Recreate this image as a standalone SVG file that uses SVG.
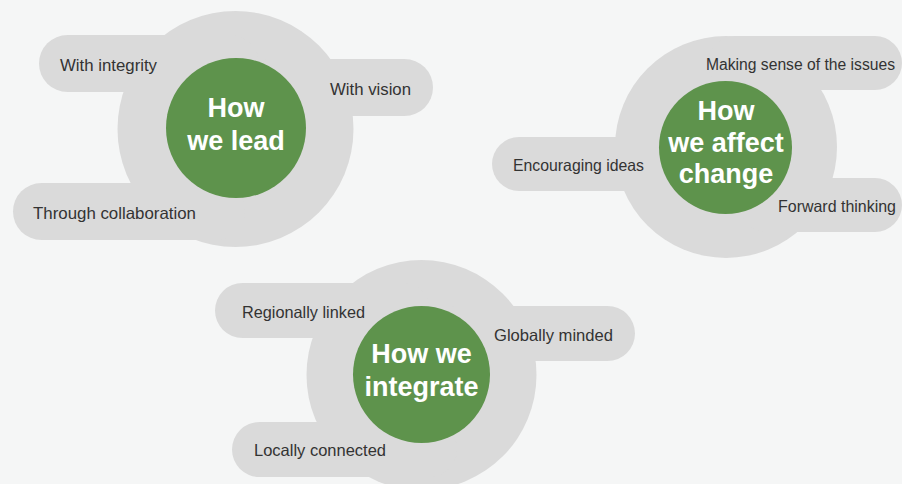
<svg xmlns="http://www.w3.org/2000/svg" width="902" height="484" viewBox="0 0 902 484">
<style>
.bg{fill:#f5f6f6}
.halo{fill:#dadada}
.pill{fill:#dadada}
.core{fill:#5e934c}
.lbl{font-family:"Liberation Sans",Arial,sans-serif;font-size:16.5px;fill:#333}
.ttl{font-family:"Liberation Sans",Arial,sans-serif;font-size:27px;font-weight:bold;fill:#fff;text-anchor:middle}
</style>
<rect class="bg" x="0" y="0" width="902" height="484"/>
<g id="connectors"></g>
<g id="lead">
<circle class="halo" cx="235.5" cy="129" r="118"/>
<rect class="pill" x="39" y="35" width="220" height="57" rx="28.5"/>
<rect class="pill" x="240" y="59" width="193" height="57" rx="28.5"/>
<rect class="pill" x="13" y="183" width="232" height="57" rx="28.5"/>
<circle class="core" cx="236" cy="128" r="70"/>
<text class="ttl" x="236" y="117">How</text>
<text class="ttl" x="236" y="150">we lead</text>
<text class="lbl" x="60" y="71" textLength="97" lengthAdjust="spacingAndGlyphs">With integrity</text>
<text class="lbl" x="330" y="95" textLength="81" lengthAdjust="spacingAndGlyphs">With vision</text>
<text class="lbl" x="33" y="219" textLength="163" lengthAdjust="spacingAndGlyphs">Through collaboration</text>
</g>
<g id="affect">
<circle class="halo" cx="726" cy="147" r="111"/>
<rect class="pill" x="708" y="36" width="194" height="54" rx="27"/>
<rect class="pill" x="492" y="137" width="210" height="54" rx="27"/>
<rect class="pill" x="740" y="178" width="162" height="54" rx="27"/>
<circle class="core" cx="725.5" cy="147.5" r="66.5"/>
<text class="ttl" x="726" y="120">How</text>
<text class="ttl" x="726" y="152">we affect</text>
<text class="ttl" x="726" y="183">change</text>
<text class="lbl" x="706" y="70" style="font-size:16px" textLength="189" lengthAdjust="spacingAndGlyphs">Making sense of the issues</text>
<text class="lbl" x="513" y="171" textLength="131" lengthAdjust="spacingAndGlyphs">Encouraging ideas</text>
<text class="lbl" x="778" y="212" textLength="118" lengthAdjust="spacingAndGlyphs">Forward thinking</text>
</g>
<g id="integrate">
<circle class="halo" cx="421.5" cy="375" r="115"/>
<rect class="pill" x="215" y="283" width="215" height="55" rx="27.5"/>
<rect class="pill" x="430" y="306" width="205" height="55" rx="27.5"/>
<rect class="pill" x="232" y="422" width="225" height="55" rx="27.5"/>
<circle class="core" cx="421.5" cy="374.5" r="68.5"/>
<text class="ttl" x="421.5" y="363">How we</text>
<text class="ttl" x="421.5" y="396">integrate</text>
<text class="lbl" x="242" y="318" textLength="123" lengthAdjust="spacingAndGlyphs">Regionally linked</text>
<text class="lbl" x="494" y="341" textLength="119" lengthAdjust="spacingAndGlyphs">Globally minded</text>
<text class="lbl" x="254" y="456" textLength="132" lengthAdjust="spacingAndGlyphs">Locally connected</text>
</g>
</svg>
